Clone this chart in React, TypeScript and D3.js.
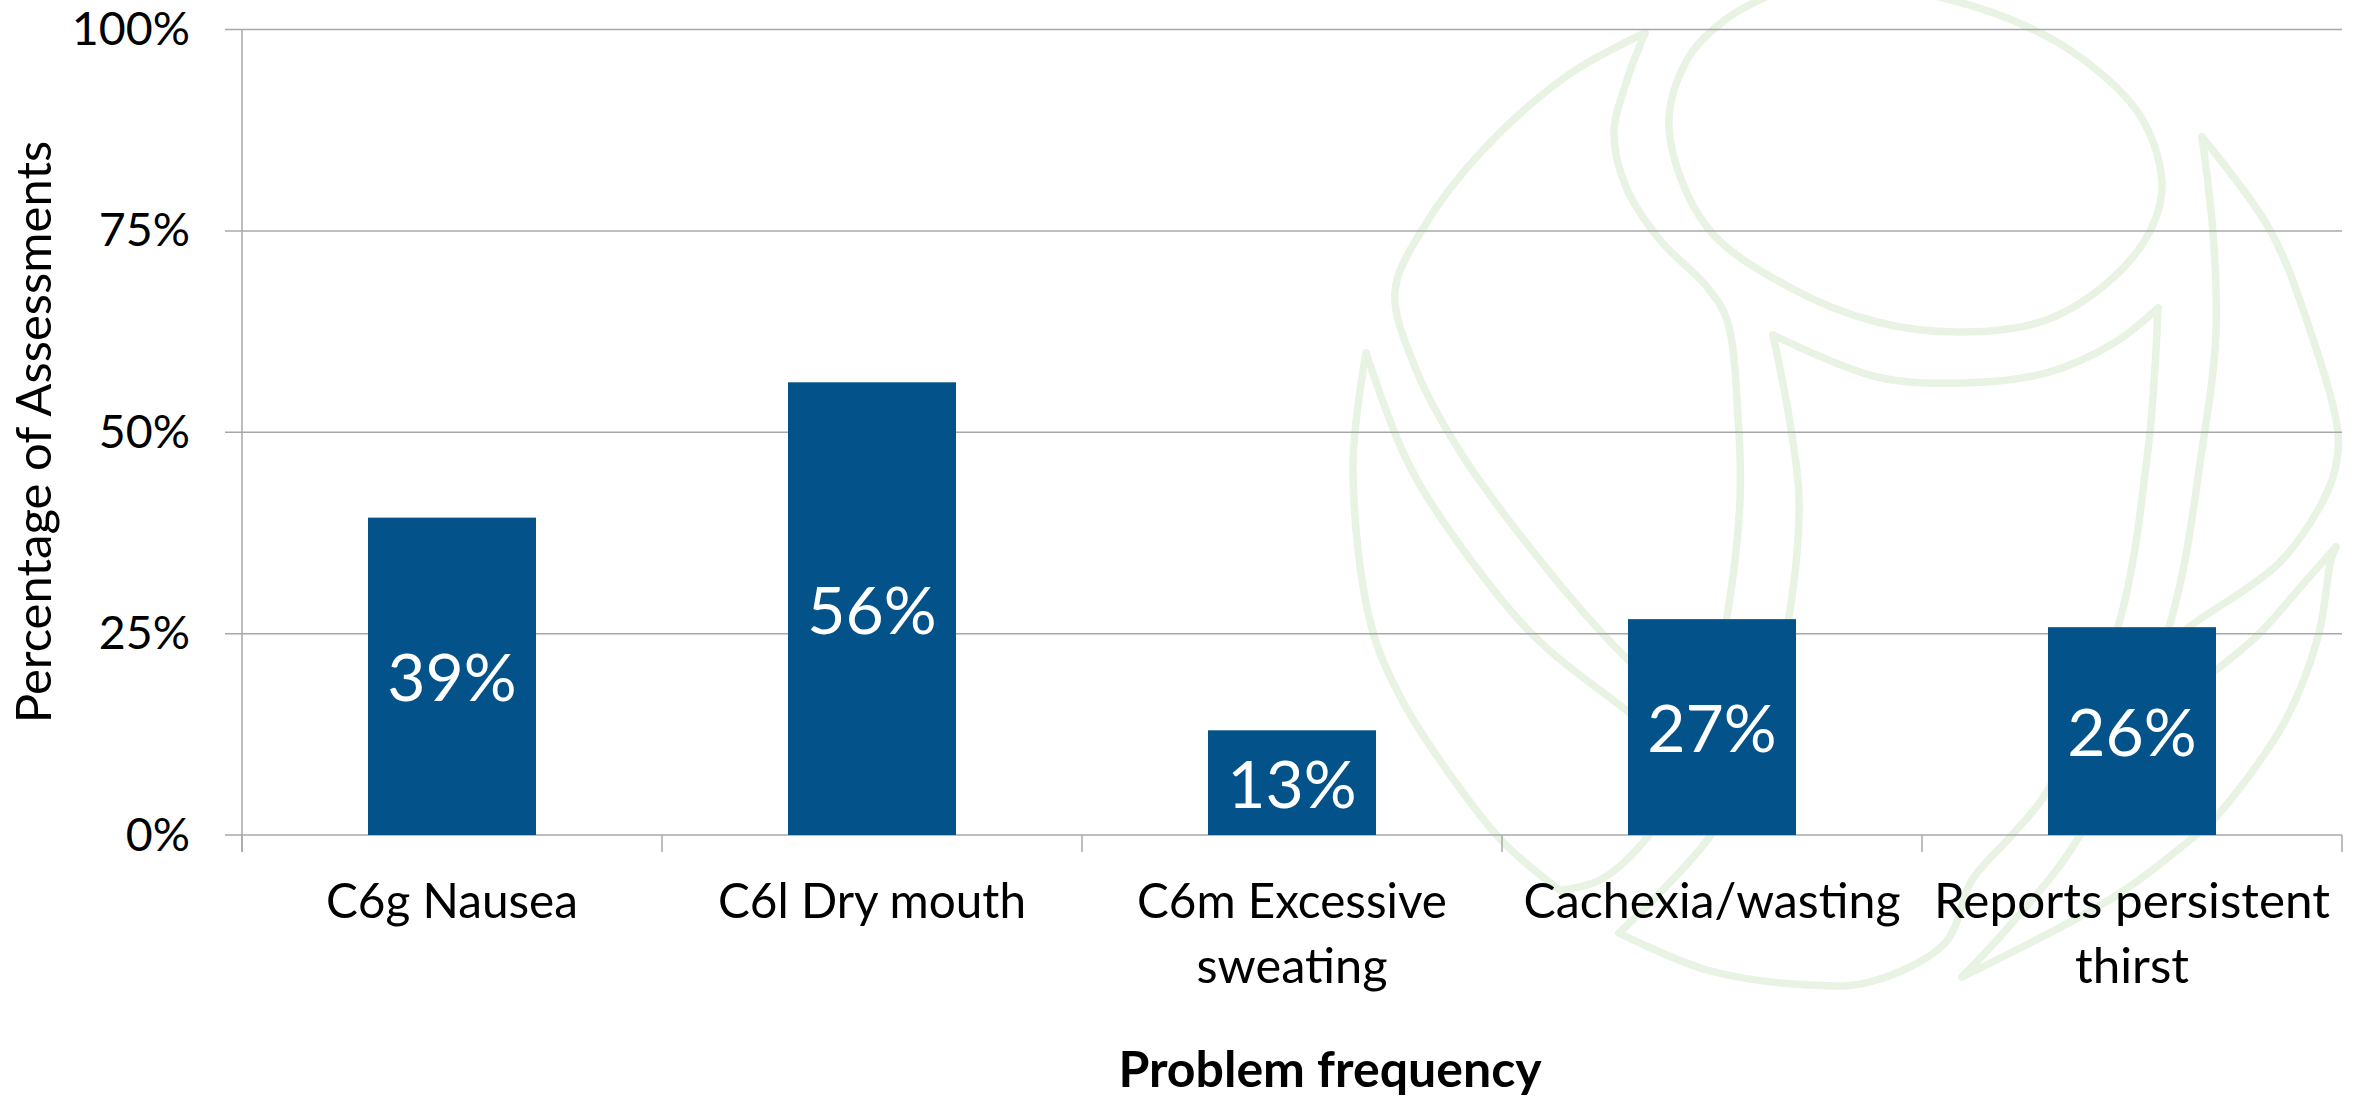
import React from "react";
import * as d3 from "d3";

const categories = ["C6g Nausea", "C6l Dry mouth", "C6m Excessive sweating", "Cachexia/wasting", "Reports persistent thirst"];
const categoryLines = [["C6g Nausea"], ["C6l Dry mouth"], ["C6m Excessive", "sweating"], ["Cachexia/wasting"], ["Reports persistent", "thirst"]];
const categoryLineWidths = [[252], [308], [310, 191], [377], [396, 114]];
const values = [39.4, 56.2, 13.0, 26.8, 25.8];
const valueLabels = ["39%", "56%", "13%", "27%", "26%"];
const yTicks = [0, 25, 50, 75, 100];

type P = [number, number];
// Background watermark outlines (decoration, not data)
const ring: P[] = [[1669,128],[1707,227],[1789,287],[1877,322],[1962,332],[2046,320],[2114,277],[2152,227],[2162,183],[2141,117],[2080,57],[2012,20],[1917,-8],[1820,-20],[1768,-4],[1721,23],[1687,60]];
const watermark: P[][] = [
  // upper leaf, outer edge
  [[1645,33],[1571,73],[1483,150],[1422,230],[1395,292],[1415,367],[1459,450],[1524,540],[1602,633],[1670,700]],
  // upper leaf, inner edge and outer crescent
  [[1645,33],[1626,83],[1614,133],[1626,187],[1660,240],[1707,287],[1727,320],[1738,417],[1740,500],[1727,617],[1700,740],[1649,835],[1600,880],[1562,890]],
  [[1366,353],[1353,467],[1371,625],[1402,700],[1456,783],[1504,843],[1562,892]],
  // outer crescent, inner edge
  [[1366,353],[1402,450],[1429,500],[1531,633],[1626,710],[1670,745]],
  // central crescent
  [[1773,335],[1789,417],[1799,500],[1789,617],[1760,740],[1711,835],[1619,933]],
  [[1773,335],[1877,377],[1962,383],[2046,373],[2114,343],[2158,308]],
  [[1619,933],[1707,970],[1809,985],[1870,982],[1945,943],[1972,880],[2012,835],[2046,793],[2118,627],[2148,450],[2155,367],[2158,308]],
  // right leaf
  [[1962,977],[2012,923],[2080,835],[2169,627],[2202,450],[2216,333],[2213,233],[2202,137]],
  [[2202,137],[2270,230],[2311,333],[2338,433],[2335,470],[2318,510],[2277,565],[2189,627],[2150,660]],
  // lower-right tail
  [[2336,547],[2304,583],[2260,633],[2216,670],[2180,695]],
  [[2336,547],[2331,560],[2318,637],[2284,723],[2216,817],[2196,835],[2114,897],[1962,977]],
];

const GRID = "#a8a8a8";
const FONT = "Lato, Carlito, sans-serif";

export default function App() {
  const W = 2364, H = 1096;
  const x = d3.scaleBand<string>().domain(categories).range([242, 2342]).paddingInner(0.6).paddingOuter(0.3);
  const y = d3.scaleLinear().domain([0, 100]).range([835, 29.5]);
  const wm = d3.line<P>().x(d => d[0]).y(d => d[1]).curve(d3.curveCatmullRom.alpha(0.5));
  const wmRing = d3.line<P>().x(d => d[0]).y(d => d[1]).curve(d3.curveCatmullRomClosed.alpha(0.5));
  const step = x.step();
  const tickXs = d3.range(categories.length + 1).map(i => x.range()[0] + i * step);
  return (
    <svg width={W} height={H} viewBox={`0 0 ${W} ${H}`} style={{ position: "absolute", left: 0, top: 0, display: "block", background: "#fff" }} fontFamily={FONT}>
      <g fill="none" stroke="#e8f3e3" strokeWidth={7.5} strokeLinejoin="round" strokeLinecap="round">
        <path d={wmRing(ring) || ""} />
        {watermark.map((pts, i) => <path key={i} d={wm(pts) || ""} />)}
      </g>
      <g stroke={GRID} strokeWidth={1.5}>
        {yTicks.map(t => <line key={t} x1={225} x2={2342} y1={y(t)} y2={y(t)} />)}
        <line x1={242} x2={242} y1={y(100)} y2={852} />
        {tickXs.map(v => <line key={v} x1={v} x2={v} y1={y(0)} y2={852} />)}
      </g>
      <g fontSize={46.5} fill="#000" textAnchor="end">
        {yTicks.map(t => <text key={t} x={190} y={y(t) + 15.5}>{t}%</text>)}
      </g>
      <g>
        {categories.map((c, i) => (
          <rect key={c} x={x(c)} y={y(values[i])} width={x.bandwidth()} height={y(0) - y(values[i])} fill="#03538a" />
        ))}
      </g>
      <g fontSize={66} fill="#fff" textAnchor="middle">
        {categories.map((c, i) => (
          <text key={c} x={x(c)! + x.bandwidth() / 2} y={y(values[i] / 2) + 25}>{valueLabels[i]}</text>
        ))}
      </g>
      <g fontSize={48.5} fill="#000" textAnchor="middle">
        {categories.map((c, i) => categoryLines[i].map((l, j) => (
          <text key={l} x={x(c)! + x.bandwidth() / 2} y={918 + j * 65} textLength={categoryLineWidths[i][j]} lengthAdjust="spacingAndGlyphs">{l}</text>
        )))}
      </g>
      <text x={1330} y={1087} textAnchor="middle" fontSize={50} fontWeight={700} fill="#000">Problem frequency</text>
      <text transform="translate(51,432) rotate(-90)" textAnchor="middle" fontSize={49} fill="#000">Percentage of Assessments</text>
    </svg>
  );
}
